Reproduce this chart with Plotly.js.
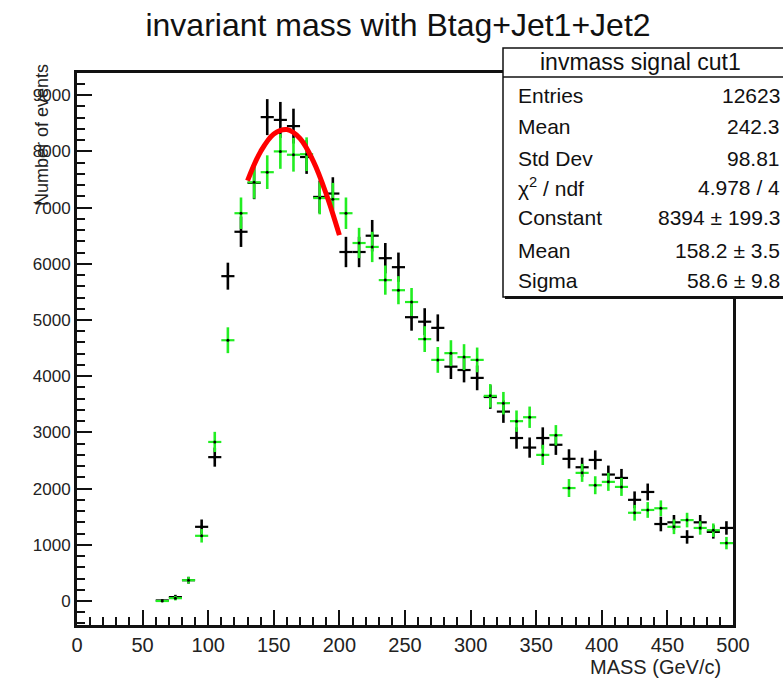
<!DOCTYPE html>
<html>
<head>
<meta charset="utf-8">
<script src="https://cdn.plot.ly/plotly-3.0.1.min.js"></script>
<style>html,body{margin:0;padding:0;background:#fff;}#chart{width:783px;height:679px;}</style>
</head>
<body>
<div id="chart"></div>
<script>
// ---- data ----
const binCenters = [65,75,85,95,105,115,125,135,145,155,165,175,185,195,205,215,225,235,245,255,265,275,285,295,305,315,325,335,345,355,365,375,385,395,405,415,425,435,445,455,465,475,485,495];
const binHalfWidth = [5,5,5,5,5,5,5,5,5,5,5,5,5,5,5,5,5,5,5,5,5,5,5,5,5,5,5,5,5,5,5,5,5,5,5,5,5,5,5,5,5,5,5,5];

const blackCounts = [10,70,370,1320,2560,5780,6570,7440,8610,8560,8450,7900,7190,7250,6210,6210,6500,6100,5940,5050,4970,4860,4170,4110,3970,3630,3370,2900,2730,2900,2780,2530,2380,2510,2250,2190,1800,1940,1370,1400,1140,1400,1230,1300];
const blackErrors = [20,40,60,130,170,240,270,290,320,320,310,300,290,290,270,270,280,270,260,240,240,240,220,220,220,210,200,190,180,190,180,170,170,170,160,160,150,150,130,130,120,130,120,120];

const greenCounts = [0,50,370,1160,2830,4640,6900,7450,7630,8000,7940,7950,7170,7150,6900,6370,6300,5710,5530,5320,4660,4290,4410,4340,4290,3650,3520,3200,3270,2600,2950,2010,2280,2060,2120,2030,1570,1620,1650,1320,1440,1300,1260,1030];
const greenErrors = [10,40,60,120,180,230,280,290,300,310,300,300,290,290,280,270,270,260,250,250,230,230,230,230,220,210,200,190,190,180,180,160,160,160,160,160,140,140,140,130,130,120,120,110];

const fitX = [130,140,150,160,170,180,190,200];
const fitY = [7480,8000,8310,8390,8230,7830,7240,6510];

const chartTitle = "invariant mass with Btag+Jet1+Jet2";
const xTitle = "MASS (GeV/c)";
const yTitle = "Number of events";
const statsHeader = "invmass signal cut1";
const statsLabels = ["Entries","Mean","Std Dev","χ<sup>2</sup> / ndf","Constant","Mean","Sigma"];
const statsValues = ["12623","242.3","98.81","4.978 / 4","8394 ± 199.3","158.2 ± 3.5","58.6 ± 9.8"];

// ---- layout helpers (pixel -> paper) ----
const L = 77, R = 733, T = 73, B = 625;
const px = v => (v - L) / (R - L);
const py = v => (B - v) / (B - T);
const FONT = "Liberation Sans, Arial, Helvetica, sans-serif";

const traces = [
  {
    x: binCenters, y: blackCounts, type: 'scatter', mode: 'markers',
    marker: {color: '#000', size: 3},
    error_x: {type: 'data', array: binHalfWidth, color: '#000', thickness: 2.2, width: 0},
    error_y: {type: 'data', array: blackErrors, color: '#000', thickness: 2.6, width: 0},
    hoverinfo: 'x+y', showlegend: false
  },
  {
    x: binCenters, y: greenCounts, type: 'scatter', mode: 'markers',
    marker: {color: '#000', size: 3},
    error_x: {type: 'data', array: binHalfWidth, color: '#22ee22', thickness: 2.2, width: 0},
    error_y: {type: 'data', array: greenErrors, color: '#22ee22', thickness: 2.6, width: 0},
    hoverinfo: 'x+y', showlegend: false
  },
  {
    x: fitX, y: fitY, type: 'scatter', mode: 'lines',
    line: {color: '#ff0000', width: 5, shape: 'spline'},
    showlegend: false
  }
];

const shapes = [
  {type: 'rect', xref: 'paper', yref: 'paper', x0: px(503), x1: px(795), y0: py(297), y1: py(48),
   fillcolor: '#fff', line: {color: '#111', width: 1.5}, layer: 'above'},
  {type: 'line', xref: 'paper', yref: 'paper', x0: px(503), x1: px(795), y0: py(77), y1: py(77),
   line: {color: '#111', width: 1.5}, layer: 'above'},
  {type: 'line', xref: 'paper', yref: 'paper', x0: px(505), x1: px(795), y0: py(297.5), y1: py(297.5),
   line: {color: '#111', width: 3}, layer: 'above'}
];

const annotations = [
  {xref: 'paper', yref: 'paper', x: px(640), y: py(62), text: statsHeader, showarrow: false,
   xanchor: 'center', yanchor: 'middle', font: {family: FONT, size: 23, color: '#111'}},
  {xref: 'paper', yref: 'paper', x: px(723), y: py(667), text: xTitle, showarrow: false,
   xanchor: 'right', yanchor: 'middle', font: {family: FONT, size: 20, color: '#222'}},
  {xref: 'paper', yref: 'paper', x: px(42), y: py(62), text: yTitle, showarrow: false, textangle: -90,
   xanchor: 'center', yanchor: 'top', font: {family: FONT, size: 18, color: '#222'}}
];
const rowY = [96,126,158,187,218,250,280];
for (let i = 0; i < statsLabels.length; i++) {
  annotations.push({xref: 'paper', yref: 'paper', x: px(516), y: py(rowY[i]), text: statsLabels[i], showarrow: false,
    xanchor: 'left', yanchor: 'middle', font: {family: FONT, size: 21, color: '#111'}});
  annotations.push({xref: 'paper', yref: 'paper', x: px(782), y: py(rowY[i]), text: statsValues[i], showarrow: false,
    xanchor: 'right', yanchor: 'middle', font: {family: FONT, size: 21, color: '#111'}});
}

const layout = {
  width: 783, height: 679,
  margin: {l: L, r: 783 - R, t: T, b: 679 - B, pad: 0},
  paper_bgcolor: '#fff', plot_bgcolor: '#fff',
  title: {text: chartTitle, x: 398 / 783, xref: 'container', xanchor: 'center', y: 1 - 25 / 679, yref: 'container', yanchor: 'middle',
          font: {family: FONT, size: 32, color: '#111'}},
  xaxis: {range: [0, 500], tick0: 0, dtick: 50, showgrid: false, zeroline: false,
          showline: true, linecolor: '#111', linewidth: 3, mirror: true,
          ticks: 'inside', ticklen: 15, tickwidth: 2, tickcolor: '#111',
          minor: {ticks: 'inside', ticklen: 8, dtick: 10, tickwidth: 2, tickcolor: '#111', showgrid: false},
          tickfont: {family: FONT, size: 20, color: '#222'}},
  yaxis: {range: [-427, 9395], tick0: 0, dtick: 1000, showgrid: false, zeroline: false,
          showline: true, linecolor: '#111', linewidth: 3, mirror: true,
          ticks: 'inside', ticklen: 15, tickwidth: 2, tickcolor: '#111',
          minor: {ticks: 'inside', ticklen: 8, dtick: 200, tickwidth: 2, tickcolor: '#111', showgrid: false},
          tickformat: 'd',
          tickfont: {family: FONT, size: 17, color: '#222'}},
  shapes: shapes,
  annotations: annotations
};

Plotly.newPlot('chart', traces, layout, {displayModeBar: false, staticPlot: true});
</script>
</body>
</html>
